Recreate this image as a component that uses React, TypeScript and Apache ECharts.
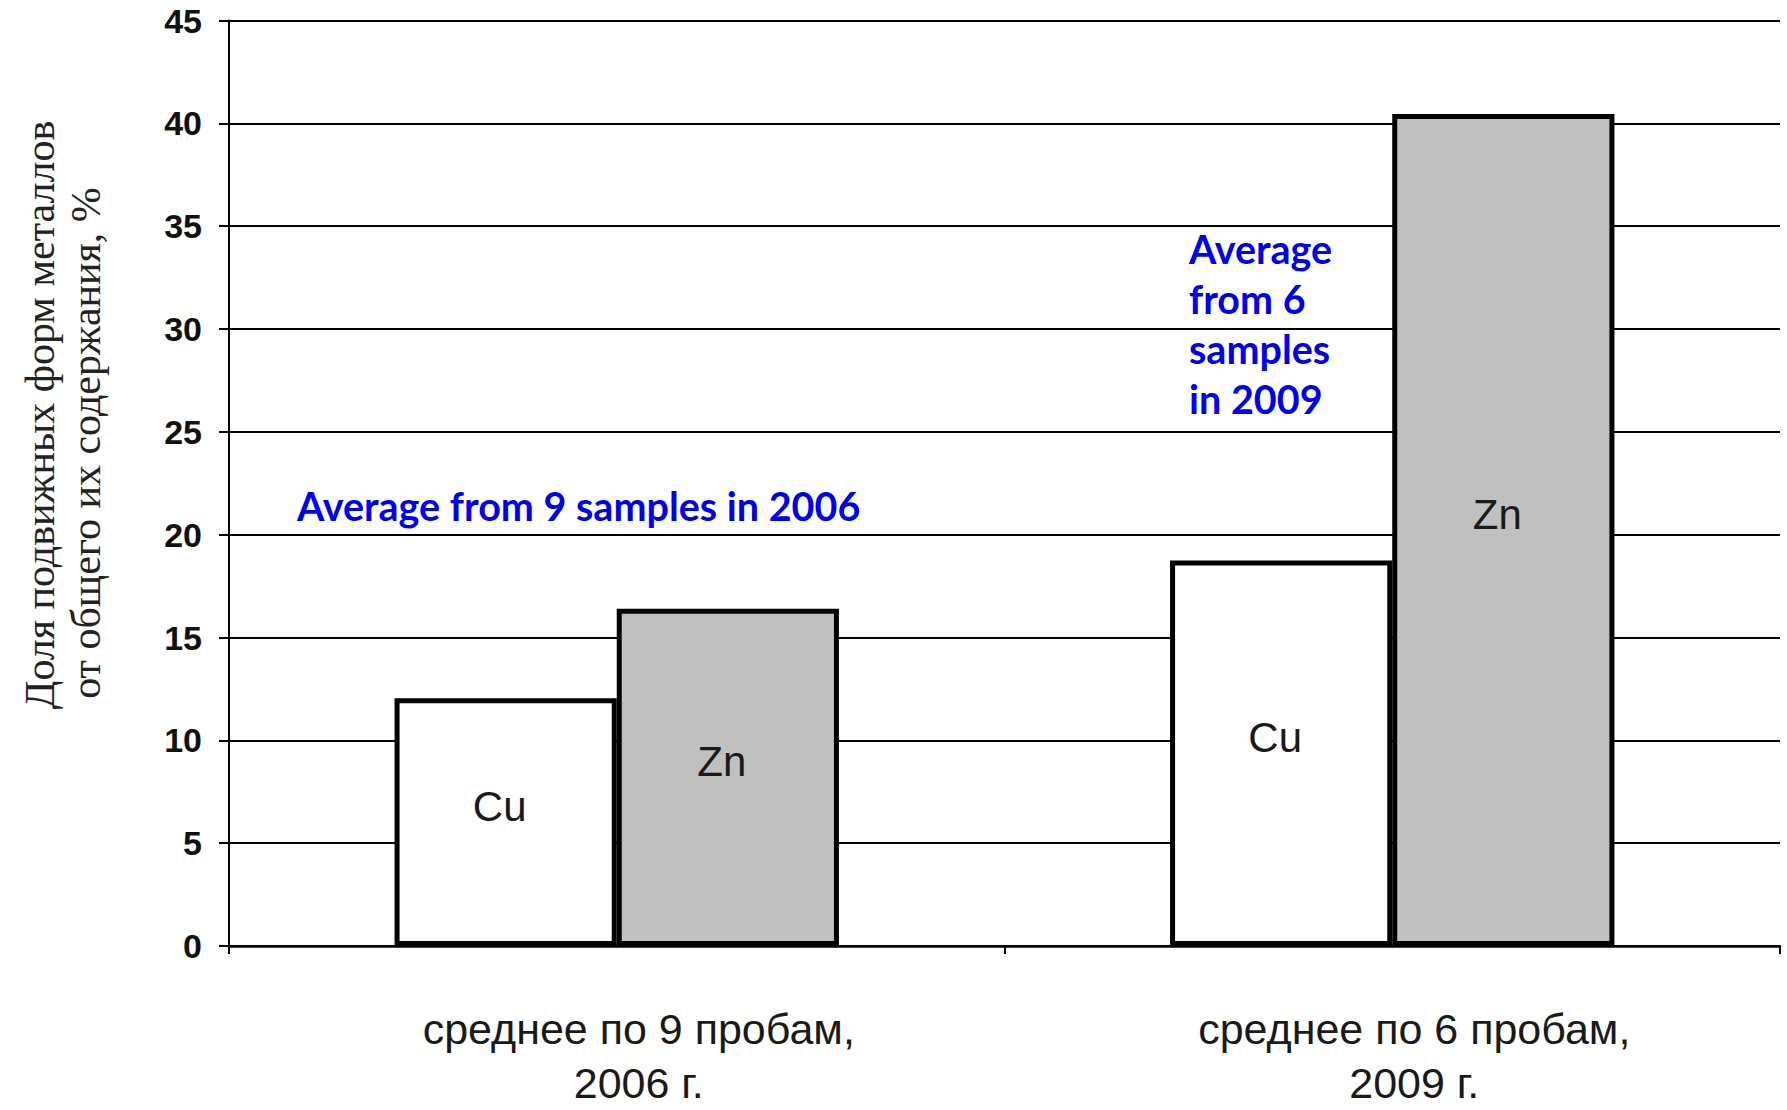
import React, { useEffect, useRef } from "react";
import * as echarts from "echarts";

const categories = ["среднее по 9 пробам,\n2006 г.", "среднее по 6 пробам,\n2009 г."];
const cuValues = [12.05, 18.75];
const znValues = [16.4, 40.45];
const seriesNames = ["Cu", "Zn"];
const yTicks = { min: 0, max: 45, interval: 5 };
const yTitleLines = ["Доля подвижных форм металлов", "от общего их содержания, %"];
const annotation2006 = "Average from 9 samples in 2006";
const annotation2009 = "Average\nfrom 6\nsamples\nin 2009";

export default function App() {
  const ref = useRef<HTMLDivElement>(null);
  useEffect(() => {
    if (!ref.current) return;
    const chart = echarts.init(ref.current, null, { renderer: "svg" });
    const labelStyle = {
      show: true,
      position: "inside",
      offset: [-6, -16],
      fontFamily: "Liberation Sans, Arial",
      fontSize: 42,
      color: "#1a1a1a",
      formatter: (p: any) => p.seriesName,
    };
    chart.setOption({
      animation: false,
      backgroundColor: "#ffffff",
      grid: { left: 229, right: 7, top: 20.5, bottom: 162, containLabel: false },
      xAxis: {
        type: "category",
        data: categories,
        axisLine: { show: true, lineStyle: { color: "#000", width: 2.5 } },
        axisTick: { show: true, length: 8, lineStyle: { color: "#000", width: 2 } },
        axisLabel: {
          margin: 56,
          fontFamily: "Liberation Sans, Arial",
          fontSize: 43,
          lineHeight: 54,
          color: "#1a1a1a",
          padding: [0, 0, 0, 44],
        },
      },
      yAxis: {
        type: "value",
        min: yTicks.min,
        max: yTicks.max,
        interval: yTicks.interval,
        axisLine: { show: true, lineStyle: { color: "#000", width: 2 } },
        axisTick: { show: true, inside: false, length: 10, lineStyle: { color: "#000", width: 2 } },
        axisLabel: {
          margin: 27,
          fontFamily: "Liberation Sans, Arial",
          fontWeight: "bold",
          fontSize: 34,
          color: "#111",
        },
        splitLine: { show: true, lineStyle: { color: "#000", width: 2 } },
      },
      series: [
        {
          name: seriesNames[0],
          type: "bar",
          data: cuValues,
          barGap: "0%",
          barCategoryGap: "42.7%",
          itemStyle: { color: "#ffffff", borderColor: "#000", borderWidth: 5 },
          label: labelStyle,
        },
        {
          name: seriesNames[1],
          type: "bar",
          data: znValues,
          barGap: "0%",
          barCategoryGap: "42.7%",
          itemStyle: { color: "#c0c0c0", borderColor: "#000", borderWidth: 5 },
          label: labelStyle,
        },
      ],
      graphic: [
        {
          type: "text",
          x: 40,
          y: 415,
          rotation: Math.PI / 2,
          style: {
            text: yTitleLines[0],
            fontFamily: "Liberation Serif, Times New Roman",
            fontSize: 42,
            fill: "#222",
            align: "center",
            verticalAlign: "middle",
          },
        },
        {
          type: "text",
          x: 86,
          y: 443,
          rotation: Math.PI / 2,
          style: {
            text: yTitleLines[1],
            fontFamily: "Liberation Serif, Times New Roman",
            fontSize: 42,
            fill: "#222",
            align: "center",
            verticalAlign: "middle",
          },
        },
        {
          type: "text",
          x: 297,
          y: 505,
          style: {
            text: annotation2006,
            fontFamily: "Lato",
            fontWeight: "bold",
            fontSize: 39.5,
            fill: "#0000f0",
            align: "left",
            verticalAlign: "middle",
          },
        },
        {
          type: "text",
          x: 1189,
          y: 223,
          style: {
            text: annotation2009,
            fontFamily: "Lato",
            fontWeight: "bold",
            fontSize: 39.5,
            lineHeight: 50,
            fill: "#0000f0",
            align: "left",
            verticalAlign: "top",
          },
        },
      ],
    });
    return () => chart.dispose();
  }, []);
  return <div ref={ref} style={{ width: 1787, height: 1110, position: "absolute", left: 0, top: 0 }} />;
}
